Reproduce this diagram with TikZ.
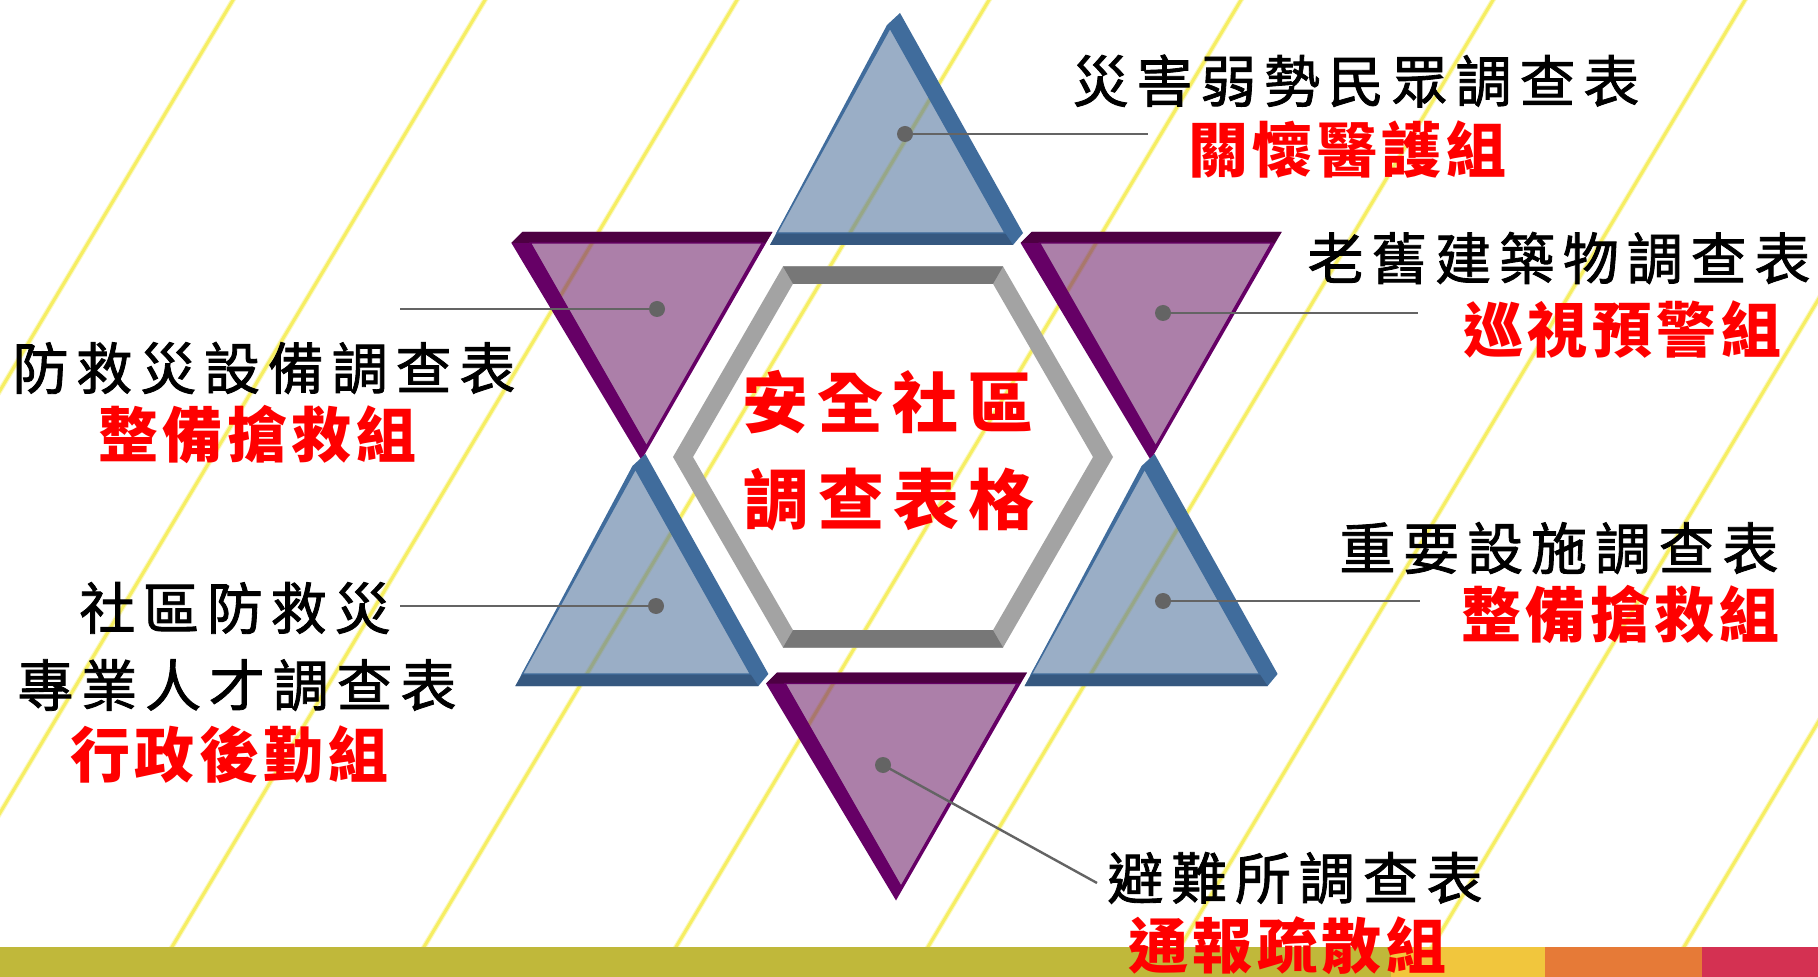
\documentclass[tikz,border=0pt]{standalone}
\usepackage{fontspec}
\newfontfamily\formfont[LetterSpace=14, FakeBold=1.5]{Noto Sans CJK TC}
\newfontfamily\teamfont[LetterSpace=7.5]{Noto Sans CJK TC}
\newfontfamily\titlefont[LetterSpace=13.5]{Noto Sans CJK TC}
\usetikzlibrary{positioning}
\usetikzlibrary{calc}

\definecolor{stripe}{RGB}{246,238,98}
\definecolor{bluedark}{RGB}{64,108,156}
\definecolor{bluedeep}{RGB}{54,88,128}
\definecolor{blueface}{RGB}{88,120,160}
\definecolor{purpdark}{RGB}{102,0,102}
\definecolor{purpdeep}{RGB}{77,0,66}
\definecolor{purpface}{RGB}{118,42,113}
\definecolor{hexlight}{RGB}{163,163,163}
\definecolor{hexdark}{RGB}{119,119,119}
\definecolor{leader}{RGB}{100,100,100}
\definecolor{barolive}{RGB}{192,184,58}
\definecolor{baryellow}{RGB}{241,198,61}
\definecolor{barorange}{RGB}{230,122,55}
\definecolor{barred}{RGB}{212,49,82}

\begin{document}
\begin{tikzpicture}[x=0.5pt, y=-0.5pt,
  dot/.style={circle, fill=leader, inner sep=0pt, minimum size=8pt},
  leaderline/.style={draw=leader, line width=1.2pt},
  formtext/.style={inner sep=0pt, font=\formfont\fontsize{28pt}{30pt}\selectfont},
  teamtext/.style={inner sep=0pt, text=red, font=\teamfont\bfseries\fontsize{30pt}{32pt}\selectfont},
  titletext/.style={inner sep=0pt, text=red, font=\titlefont\bfseries\fontsize{33pt}{35pt}\selectfont}]

  \useasboundingbox (0,0) rectangle (1818,977);
  \fill[white] (0,0) rectangle (1818,977);

  % diagonal stripes in the back
  \begin{scope}
    \clip (0,0) rectangle (1818,947);
    \foreach \k in {0,...,8} {
      \draw[stripe!40, line width=2.6pt] ({233+252*\k+3},-5) -- ({233+252*\k-568},952);
      \draw[stripe, line width=1.5pt] ({233+252*\k+3},-5) -- ({233+252*\k-568},952);
    }
  \end{scope}

  % coloured bar at the bottom
  \fill[barolive] (0,947) rectangle (1391,977);
  \fill[baryellow] (1391,947) rectangle (1545,977);
  \fill[barorange] (1545,947) rectangle (1702,977);
  \fill[barred] (1702,947) rectangle (1818,977);

  % triangle pointing up, #1 #2 = top corner
  \def\bluetri#1#2{
    \fill[bluedark, even odd rule] ({#1-8},{#2+10}) -- ({#1+5},{#2-2}) -- ({#1+128},{#2+218}) -- ({#1+118},{#2+230}) -- ({#1-125},{#2+230}) -- cycle
      ({#1-5},{#2+13}) -- ({#1+110},{#2+218}) -- ({#1-118},{#2+218}) -- cycle;
    \fill[bluedeep] ({#1-118},{#2+218}) -- ({#1+110},{#2+218}) -- ({#1+118},{#2+230}) -- ({#1-125},{#2+230}) -- cycle;
    \filldraw[fill=blueface, fill opacity=0.6, draw=bluedark, line width=0.7pt] ({#1-5},{#2+13}) -- ({#1+110},{#2+218}) -- ({#1-118},{#2+218}) -- cycle;
  }
  % triangle pointing down, #1 #2 = bottom corner
  \def\purptri#1#2{
    \fill[purpdark, even odd rule] ({#1-129},{#2-213}) -- ({#1-118},{#2-224}) -- ({#1+132},{#2-224}) -- ({#1+1},{#2+4}) -- cycle
      ({#1-110},{#2-213}) -- ({#1+122},{#2-213}) -- ({#1+6},{#2-10}) -- cycle;
    \fill[purpdeep] ({#1-129},{#2-213}) -- ({#1-118},{#2-224}) -- ({#1+132},{#2-224}) -- ({#1+125},{#2-213}) -- cycle;
    \filldraw[fill=purpface, fill opacity=0.6, draw=purpdark, line width=0.7pt] ({#1-110},{#2-213}) -- ({#1+122},{#2-213}) -- ({#1+6},{#2-10}) -- cycle;
  }

  % the six points of the star
  \purptri{640.4}{456}
  \purptri{1149.6}{456}
  \purptri{895}{896.5}
  \bluetri{895}{15}
  \bluetri{640.4}{456}
  \bluetri{1149.6}{456}

  % grey frame in the middle
  \coordinate (hc) at (893,457);
  \foreach \i in {0,...,5} {
    \coordinate (o\i) at ($(hc)+(\i*60:220)$);
    \coordinate (n\i) at ($(hc)+(\i*60:200)$);
  }
  \fill[hexlight, even odd rule] (o0) -- (o1) -- (o2) -- (o3) -- (o4) -- (o5) -- cycle
    (n0) -- (n1) -- (n2) -- (n3) -- (n4) -- (n5) -- cycle;
  \fill[hexdark] (o4) -- (o5) -- (n5) -- (n4) -- cycle;
  \fill[hexdark] (o1) -- (o2) -- (n2) -- (n1) -- cycle;

  \node[titletext] (c1) at (888,402) {安全社區};
  \node[titletext] (c2) at (889,500) {調查表格};

  % dots and leader lines
  \node[dot] (d1) at (905,134) {};
  \node[dot] (d2) at (1163,313) {};
  \node[dot] (d3) at (657,309) {};
  \node[dot] (d4) at (656,606) {};
  \node[dot] (d5) at (1163,601) {};
  \node[dot] (d6) at (883,765) {};
  \coordinate (e1) at (1148,134);
  \coordinate (e2) at (1418,313);
  \coordinate (e3) at (400,309);
  \coordinate (e4) at (400,606);
  \coordinate (e5) at (1420,601);
  \coordinate (e6) at (1097,883);
  \draw[leaderline] (d1.center) -- (e1);
  \draw[leaderline] (d2.center) -- (e2);
  \draw[leaderline] (d3.center) -- (e3);
  \draw[leaderline] (d4.center) -- (e4);
  \draw[leaderline] (d5.center) -- (e5);
  \draw[leaderline] (d6.center) -- (e6);

  % labels
  \node[formtext] (f1) at (1356,81) {災害弱勢民眾調查表};
  \node[teamtext] (g1) at (1347,150) {關懷醫護組};
  \node[formtext] (f2) at (1559,258) {老舊建築物調查表};
  \node[teamtext] (g2) at (1622,330) {巡視預警組};
  \node[formtext] (f3) at (264,368) {防救災設備調查表};
  \node[teamtext] (g3) at (257,435) {整備搶救組};
  \node[formtext] (f4) at (235,608) {社區防救災};
  \node[formtext] (f4b) at (237,685) {專業人才調查表};
  \node[teamtext] (g4) at (229,755) {行政後勤組};
  \node[formtext] (f5) at (1559,548) {重要設施調查表};
  \node[teamtext] (g5) at (1620,615) {整備搶救組};
  \node[formtext] (f6) at (1295,878) {避難所調查表};
  \node[teamtext] (g6) at (1287,946) {通報疏散組};
\end{tikzpicture}
\end{document}
